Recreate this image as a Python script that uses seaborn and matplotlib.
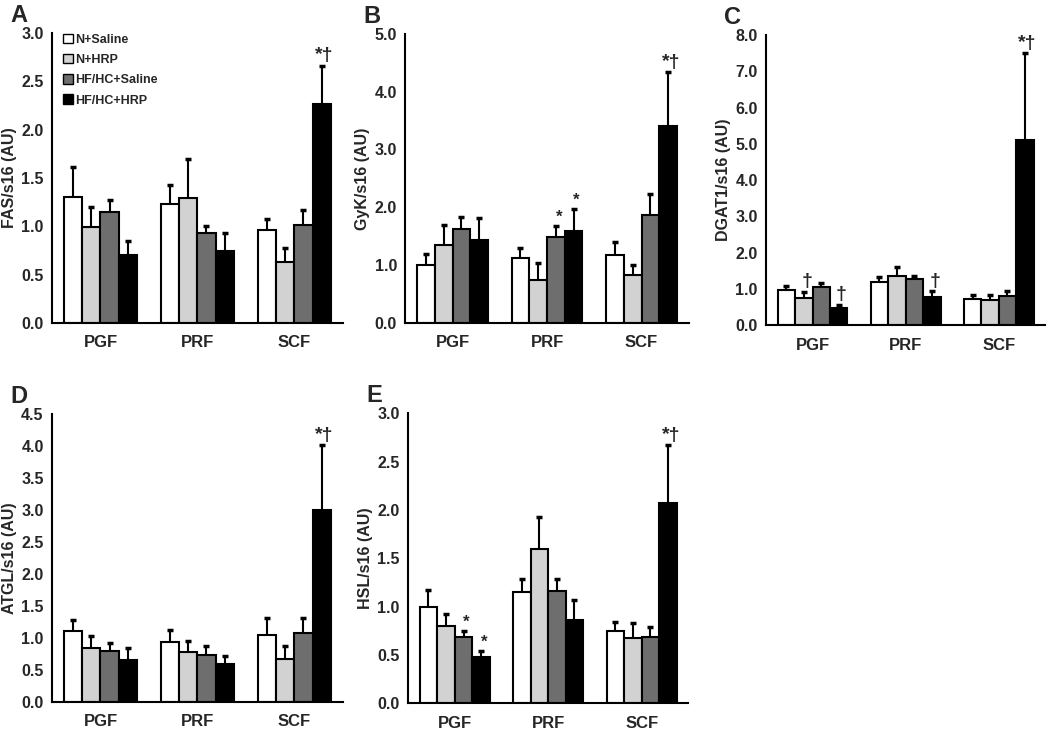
import numpy as np
import pandas as pd
import matplotlib
matplotlib.use('Agg')
import matplotlib.pyplot as plt
import seaborn as sns
from matplotlib.patches import Patch
from matplotlib.ticker import FormatStrFormatter

depots = ['PGF', 'PRF', 'SCF']
groups = ['N+Saline', 'N+HRP', 'HF/HC+Saline', 'HF/HC+HRP']
colors = ['white', '#d2d2d2', '#6e6e6e', 'black']

# mean and SEM per group (rows) and depot (columns)
fas_mean = [[1.30, 1.23, 0.965], [0.99, 1.29, 0.63], [1.145, 0.93, 1.01], [0.70, 0.74, 2.27]]
fas_sem = [[0.31, 0.20, 0.115], [0.21, 0.41, 0.15], [0.125, 0.07, 0.16], [0.145, 0.19, 0.39]]

gyk_mean = [[1.01, 1.12, 1.18], [1.34, 0.75, 0.83], [1.63, 1.49, 1.87], [1.43, 1.59, 3.41]]
gyk_sem = [[0.19, 0.18, 0.22], [0.36, 0.29, 0.18], [0.20, 0.19, 0.36], [0.39, 0.38, 0.93]]

dgat_mean = [[0.98, 1.20, 0.71], [0.75, 1.35, 0.69], [1.06, 1.26, 0.80], [0.48, 0.78, 5.10]]
dgat_sem = [[0.11, 0.13, 0.12], [0.17, 0.26, 0.14], [0.09, 0.09, 0.14], [0.09, 0.16, 2.41]]

atgl_mean = [[1.11, 0.94, 1.05], [0.84, 0.78, 0.67], [0.80, 0.74, 1.08], [0.66, 0.59, 3.01]]
atgl_sem = [[0.18, 0.19, 0.26], [0.20, 0.17, 0.20], [0.12, 0.14, 0.24], [0.19, 0.13, 1.01]]

hsl_mean = [[0.99, 1.15, 0.75], [0.80, 1.60, 0.67], [0.68, 1.16, 0.68], [0.48, 0.86, 2.07]]
hsl_sem = [[0.18, 0.13, 0.09], [0.12, 0.33, 0.16], [0.07, 0.12, 0.11], [0.06, 0.21, 0.60]]

# significance marks: (group index, depot index, text)
fas_marks = [(3, 2, '*†')]
gyk_marks = [(2, 1, '*'), (3, 1, '*'), (3, 2, '*†')]
dgat_marks = [(1, 0, '†'), (3, 0, '†'), (3, 1, '†'), (3, 2, '*†')]
atgl_marks = [(3, 2, '*†')]
hsl_marks = [(2, 0, '*'), (3, 0, '*'), (3, 2, '*†')]

sns.set_style('white')
plt.rcParams['font.family'] = ['Liberation Sans', 'DejaVu Sans']
plt.rcParams['font.weight'] = 'bold'

fig = plt.figure(figsize=(10.5, 7.34), dpi=100)

panels = [
    ('A', [0.0495, 0.560, 0.277, 0.395], fas_mean, fas_sem, fas_marks, 'FAS/s16 (AU)', 3.0, 0.5),
    ('B', [0.386, 0.560, 0.270, 0.394], gyk_mean, gyk_sem, gyk_marks, 'GyK/s16 (AU)', 5.0, 1.0),
    ('C', [0.7295, 0.557, 0.266, 0.395], dgat_mean, dgat_sem, dgat_marks, 'DGAT1/s16 (AU)', 8.0, 1.0),
    ('D', [0.0495, 0.0436, 0.277, 0.392], atgl_mean, atgl_sem, atgl_marks, 'ATGL/s16 (AU)', 4.5, 0.5),
    ('E', [0.3886, 0.042, 0.267, 0.395], hsl_mean, hsl_sem, hsl_marks, 'HSL/s16 (AU)', 3.0, 0.5),
]

for letter, pos, means, sems, marks, ylabel, ymax, step in panels:
    ax = fig.add_axes(pos)
    rows = []
    for g, grp in enumerate(groups):
        for d, dep in enumerate(depots):
            rows.append({'Depot': dep, 'Group': grp, 'Value': means[g][d], 'SEM': sems[g][d]})
    df = pd.DataFrame(rows)

    sns.barplot(data=df, x='Depot', y='Value', hue='Group', order=depots, hue_order=groups,
                palette=dict(zip(groups, colors)), edgecolor='black', linewidth=1.5,
                width=0.75, errorbar=None, legend=False, ax=ax)
    bars = list(ax.containers)

    # upward-only error bars on each bar
    for g, cont in enumerate(bars):
        xs = [b.get_x() + b.get_width() / 2 for b in cont]
        ys = [b.get_height() for b in cont]
        errs = sems[g]
        eb = ax.errorbar(xs, ys, yerr=[np.zeros(len(errs)), errs], fmt='none',
                         ecolor='black', elinewidth=1.5, capsize=2, capthick=2.5, zorder=1)
        eb[1][0].set_visible(False)

    for g, d, txt in marks:
        b = bars[g][d]
        top = means[g][d] + sems[g][d]
        ax.annotate(txt, (b.get_x() + b.get_width() / 2 + 0.03, top), xytext=(0, 1),
                    textcoords='offset points', ha='center', va='bottom',
                    fontsize=14 if '†' in txt else 12, fontweight='bold')

    ax.set_xlim(-0.5, 2.5)
    ax.set_ylim(0, ymax)
    ax.set_yticks(np.arange(0, ymax + step / 2, step))
    ax.yaxis.set_major_formatter(FormatStrFormatter('%.1f'))
    ax.set_xticks([-0.5, 0.5, 1.5, 2.5], minor=True)
    ax.tick_params(axis='x', which='major', length=0, labelsize=12, pad=9)
    ax.tick_params(axis='x', which='minor', length=4, width=1.5, direction='out', color='black')
    ax.tick_params(axis='y', length=4, width=1.5, direction='out', labelsize=11.5, color='black', pad=2)
    for lab in ax.get_xticklabels() + ax.get_yticklabels():
        lab.set_fontweight('bold')
    ax.set_xlabel('')
    ax.set_ylabel(ylabel, fontsize=11.5, fontweight='bold', labelpad=3)
    for side in ['top', 'right']:
        ax.spines[side].set_visible(False)
    for side in ['left', 'bottom']:
        ax.spines[side].set_linewidth(1.5)
        ax.spines[side].set_color('black')

    fig.text(pos[0] - 0.04, pos[1] + pos[3] + 0.008, letter, fontsize=17, fontweight='bold',
             ha='left', va='bottom')

    if letter == 'A':
        handles = [Patch(facecolor=c, edgecolor='black', linewidth=1) for c in colors]
        ax.legend(handles, groups, loc='upper left', bbox_to_anchor=(0.02, 1.015), frameon=False,
                  fontsize=9, handlelength=0.8, handleheight=0.8, handletextpad=0.2,
                  labelspacing=0.65, borderaxespad=0)

fig.savefig('out.png', dpi=100)
